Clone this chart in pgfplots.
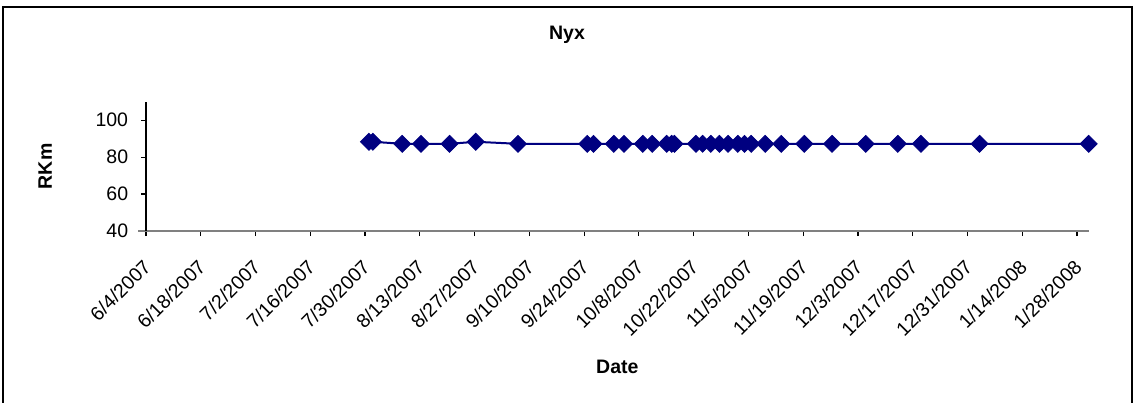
\documentclass[border=0pt]{standalone}
\usepackage{pgfplots}
\pgfplotsset{compat=1.18}
\usepackage{fontspec}
\setmainfont{Liberation Sans}
\definecolor{navy}{RGB}{0,0,128}
\definecolor{axisgray}{RGB}{128,128,128}

% River kilometre of Nyx, x = days since 6/4/2007
\pgfplotstableread{
day   rkm
57    88.3
58    88.3
65.5  87.2
70.3  87.2
77.6  87.2
84.3  88.3
95.1  87.2
112.8 87.2
114.4 87.2
119.6 87.2
122.2 87.2
127.0 87.2
129.4 87.2
133.1 87.2
134.4 87.2
135.1 87.2
140.6 87.2
142.3 87.2
144.4 87.2
146.6 87.2
148.8 87.2
151.3 87.2
153.0 87.2
154.7 87.2
158.3 87.2
162.4 87.2
168.3 87.2
175.4 87.2
184.0 87.2
192.2 87.2
198.1 87.2
213.1 87.2
241   87.2
}\nyx

\begin{document}
\fontsize{9.75}{11.7}\selectfont
\begin{tikzpicture}
\useasboundingbox (0,0) rectangle (566.5pt,201pt);
\draw[black, line width=1pt] (1.5pt,-5pt) rectangle (566pt,197.5pt);
\node[font=\bfseries] at (283.5pt,183.5pt) {Nyx};
\begin{axis}[
  at={(73pt,85.5pt)}, anchor=south west,
  scale only axis, width=471.35pt, height=64.65pt,
  xmin=0, xmax=241, ymin=40, ymax=110,
  axis x line*=bottom, axis y line*=left,
  x axis line style={-, draw=axisgray, line width=1pt, shorten <=-4pt},
  y axis line style={-, draw=black, line width=0.6pt},
  tick align=outside, major tick length=2.5pt,
  tick style={black, line width=0.6pt},
  ytick={40,60,80,100},
  xtick={0,14,...,238},
  xticklabels={6/4/2007,6/18/2007,7/2/2007,7/16/2007,7/30/2007,8/13/2007,8/27/2007,9/10/2007,9/24/2007,10/8/2007,10/22/2007,11/5/2007,11/19/2007,12/3/2007,12/17/2007,12/31/2007,1/14/2008,1/28/2008},
  xticklabel style={xshift=-2pt, yshift=-9.5pt, rotate=45, anchor=north east, inner sep=1pt},
  yticklabel style={anchor=east, xshift=-3pt},
  /pgf/number format/assume math mode=true,
  xlabel={\bfseries Date},
  ylabel={\bfseries RKm},
  xlabel style={at={(axis description cs:0.5,-1.052)}, anchor=center},
  ylabel style={at={(axis description cs:-0.107,0.5)}, anchor=center},
  clip=false,
]
\addplot[navy, line width=1pt, mark=square*, mark size=3pt,
  mark options={rotate=45, solid, fill=navy, draw=navy, line width=0.4pt}]
  table[x=day, y=rkm] {\nyx};
\end{axis}
\end{tikzpicture}
\end{document}
